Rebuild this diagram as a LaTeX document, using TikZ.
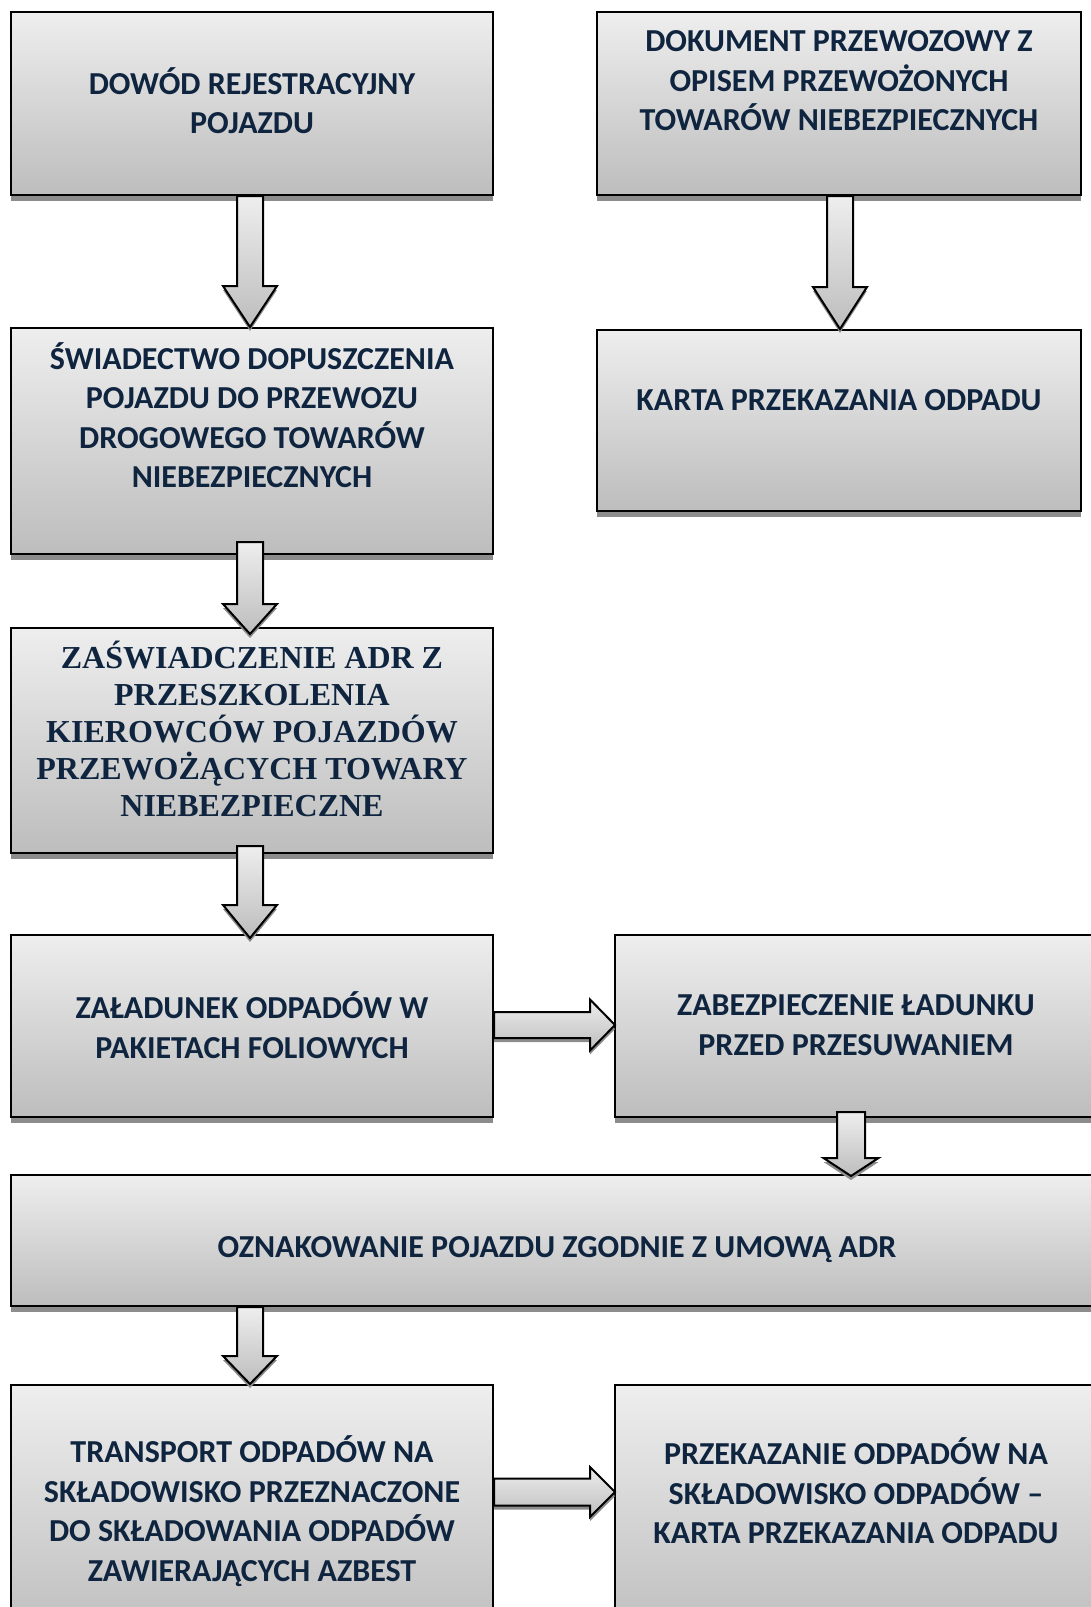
\documentclass[tikz,border=0pt]{standalone}
\usepackage{fontspec}
\setmainfont{Carlito}
\newfontfamily\timesf{Liberation Serif}
\usetikzlibrary{calc}
\definecolor{txt}{HTML}{0F243E}
\definecolor{gtop}{HTML}{EEEEEE}
\definecolor{gbot}{HTML}{BDBDBD}
\definecolor{shadowgray}{HTML}{8C8C8C}
\tikzset{
  boxshape/.style={rectangle, draw=black, line width=2pt, top color=gtop, bottom color=gbot, inner sep=0pt},
  lbl/.style={text=txt, font=\bfseries\fontsize{32}{39.5}\selectfont, align=center, inner sep=0pt},
  lblserif/.style={text=txt, font=\timesf\bfseries\fontsize{32}{36.8}\selectfont, align=center, inner sep=0pt},
  blockarrow/.style={draw=black, line width=2pt, line join=miter, top color=gtop, bottom color=gbot},
  shadowstyle/.style={fill=shadowgray},
}
% vertical block arrow: #1 start, #2 tip, #3 shaft half width, #4 head half width, #5 head length
\newcommand{\varrow}[5]{%
  \path[shadowstyle] let \p1=#1, \p2=#2 in
    (\x2-#3,\y1-4pt) -- (\x2+#3,\y1-4pt) -- (\x2+#3,\y2+#5-4pt) -- (\x2+#4,\y2+#5-4pt)
    -- (\x2,\y2-4pt) -- (\x2-#4,\y2+#5-4pt) -- (\x2-#3,\y2+#5-4pt) -- cycle;
  \path[blockarrow] let \p1=#1, \p2=#2 in
    (\x2-#3,\y1) -- (\x2+#3,\y1) -- (\x2+#3,\y2+#5) -- (\x2+#4,\y2+#5)
    -- (\x2,\y2) -- (\x2-#4,\y2+#5) -- (\x2-#3,\y2+#5) -- cycle;
}
% horizontal block arrow
\newcommand{\harrow}[5]{%
  \path[shadowstyle] let \p1=#1, \p2=#2 in
    (\x1,\y2+#3-4pt) -- (\x2-#5,\y2+#3-4pt) -- (\x2-#5,\y2+#4-4pt) -- (\x2,\y2-4pt)
    -- (\x2-#5,\y2-#4-4pt) -- (\x2-#5,\y2-#3-4pt) -- (\x1,\y2-#3-4pt) -- cycle;
  \path[blockarrow] let \p1=#1, \p2=#2 in
    (\x1,\y2+#3) -- (\x2-#5,\y2+#3) -- (\x2-#5,\y2+#4) -- (\x2,\y2)
    -- (\x2-#5,\y2-#4) -- (\x2-#5,\y2-#3) -- (\x1,\y2-#3) -- cycle;
}
\begin{document}
\begin{tikzpicture}[x=1pt,y=-1pt]
\path[clip] (0,0) rectangle (1091,1607);
\useasboundingbox (0,0) rectangle (1091,1607);
\fill[white] (0,0) rectangle (1091,1607);

% boxes (positions)
\path
  (252,103.5) coordinate (pA)
  (839,103.5) coordinate (pB)
  (252,441) coordinate (pC)
  (839,420.5) coordinate (pD)
  (252,740.5) coordinate (pE)
  (252,1026) coordinate (pF)
  (856,1026) coordinate (pG)
  (557,1240.5) coordinate (pH)
  (252,1512.5) coordinate (pI)
  (856,1512.5) coordinate (pJ);

% shadows of boxes
\foreach \p/\w/\h in {pA/482/183, pB/484/183, pC/482/226, pD/484/181, pE/482/225, pF/482/182, pG/482/182, pH/1092/131}{
  \fill[shadowstyle] ($(\p)+(-\w/2,\h/2)$) rectangle ($(\p)+(\w/2,\h/2+6)$);
}

\node[boxshape, minimum width=482pt, minimum height=183pt] (A) at (pA) {};
\node[boxshape, minimum width=484pt, minimum height=183pt] (B) at (pB) {};
\node[boxshape, minimum width=482pt, minimum height=226pt] (C) at (pC) {};
\node[boxshape, minimum width=484pt, minimum height=181pt] (D) at (pD) {};
\node[boxshape, minimum width=482pt, minimum height=225pt] (E) at (pE) {};
\node[boxshape, minimum width=482pt, minimum height=182pt] (F) at (pF) {};
\node[boxshape, minimum width=482pt, minimum height=182pt] (G) at (pG) {};
\node[boxshape, minimum width=1092pt, minimum height=131pt] (H) at (pH) {};
\node[boxshape, minimum width=482pt, minimum height=255pt] (I) at (pI) {};
\node[boxshape, minimum width=482pt, minimum height=255pt] (J) at (pJ) {};

% texts
\node[lbl] (tA) at (252,100.5) {DOWÓD REJESTRACYJNY\\POJAZDU};
\node[lbl] (tB) at (839,81) {DOKUMENT PRZEWOZOWY Z\\OPISEM PRZEWOŻONYCH\\TOWARÓW NIEBEZPIECZNYCH};
\node[lbl] (tC) at (252,415) {ŚWIADECTWO DOPUSZCZENIA\\POJAZDU DO PRZEWOZU\\DROGOWEGO TOWARÓW\\NIEBEZPIECZNYCH};
\node[lbl] (tD) at (839,400) {KARTA PRZEKAZANIA ODPADU};
\node[lblserif] (tE) at (252,729) {ZAŚWIADCZENIE ADR Z\\PRZESZKOLENIA\\KIEROWCÓW POJAZDÓW\\PRZEWOŻĄCYCH TOWARY\\NIEBEZPIECZNE};
\node[lbl] (tF) at (252,1025) {ZAŁADUNEK ODPADÓW W\\PAKIETACH FOLIOWYCH};
\node[lbl] (tG) at (856,1025) {ZABEZPIECZENIE ŁADUNKU\\PRZED PRZESUWANIEM};
\node[lbl] (tH) at (557,1250) {OZNAKOWANIE POJAZDU ZGODNIE Z UMOWĄ ADR};
\node[lbl] (tI) at (252,1511) {TRANSPORT ODPADÓW NA\\SKŁADOWISKO PRZEZNACZONE\\DO SKŁADOWANIA ODPADÓW\\ZAWIERAJĄCYCH AZBEST};
\node[lbl] (tJ) at (856,1491) {PRZEKAZANIE ODPADÓW NA\\SKŁADOWISKO ODPADÓW –\\KARTA PRZEKAZANIA ODPADU};

% arrows
\varrow{($(A.south)+(-2,0)$)}{($(C.north)+(-2,0)$)}{13pt}{27pt}{41pt}
\varrow{($(B.south)+(1,0)$)}{($(D.north)+(1,0)$)}{13pt}{27pt}{42pt}
\varrow{($(C.south)+(-2,-13)$)}{($(E.north)+(-2,7)$)}{13pt}{27pt}{30pt}
\varrow{($(E.south)+(-2,-8)$)}{($(F.north)+(-2,4)$)}{13pt}{27pt}{33pt}
\varrow{($(G.south)+(-6,-6)$)}{($(G.south |- H.north)+(-5,2)$)}{14pt}{27.5pt}{18pt}
\varrow{($(H.south -| I.north)+(-2,0)$)}{($(I.north)+(-2,0)$)}{13pt}{27pt}{28pt}
\harrow{(F.east)}{($(G.west)+(1,-1)$)}{13pt}{25.5pt}{25pt}
\harrow{($(I.east)+(0,-20)$)}{($(J.west)+(1,-20.5)$)}{13.5pt}{25pt}{25pt}
\end{tikzpicture}
\end{document}
